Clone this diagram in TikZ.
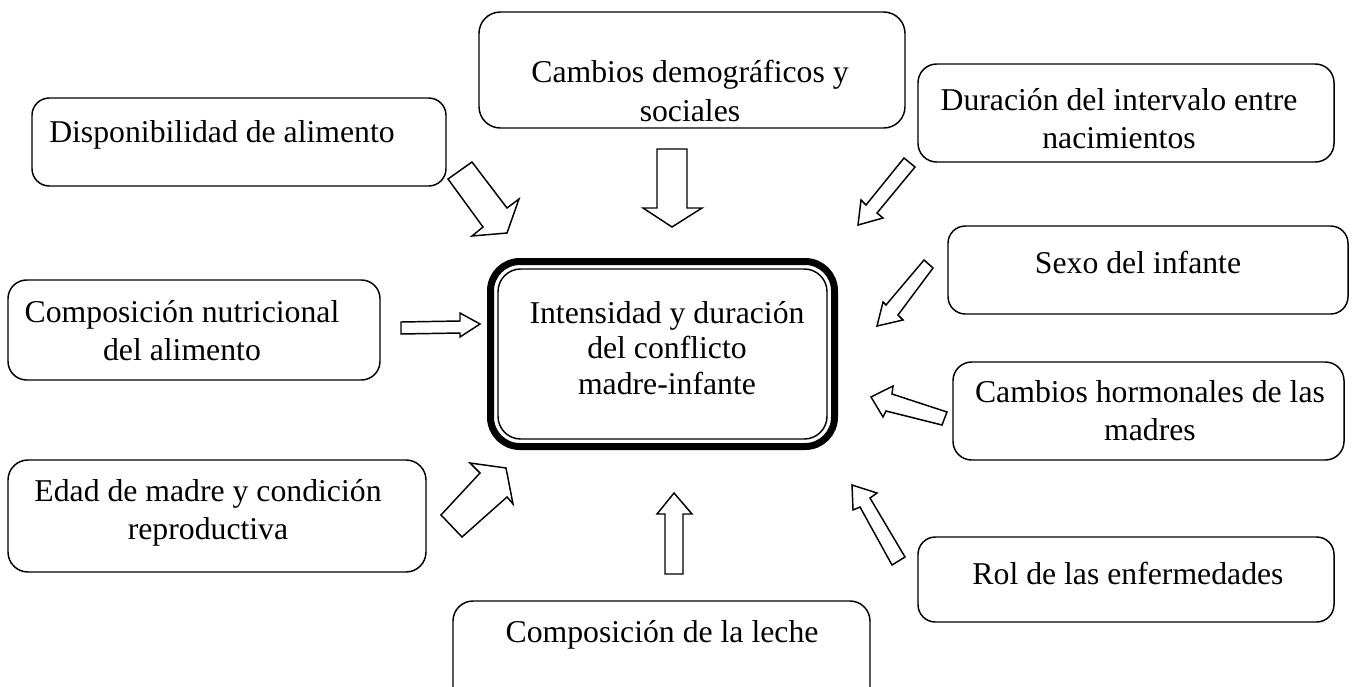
\documentclass[tikz,border=0pt]{standalone}
\usepackage{fontspec}
\setmainfont{Liberation Serif}
\usetikzlibrary{fit}
\begin{document}
\begin{tikzpicture}[x=0.75pt,y=-0.75pt,
  box/.style={draw, line width=1.1pt, rounded corners=#1, inner sep=0pt},
  box/.default=14pt,
  txt/.style={inner sep=0pt, align=center, font=\fontsize{23.8}{28.6}\selectfont},
  blockarrow/.style={draw, line width=1.1pt, fill=white, line join=miter}]
\useasboundingbox (0,0) rectangle (1356,686);
\clip (0,0) rectangle (1356,686);

% outer boxes
\node[box=13pt, fit={(32,98) (446,186)}] (b1) {};
\node[box=16pt, fit={(479,12) (905,128)}] (b2) {};
\node[box=14pt, fit={(918,64) (1334,162)}] (b3) {};
\node[box=13pt, fit={(948,226) (1348,314)}] (b4) {};
\node[box=14pt, fit={(8,280) (380,380)}] (b5) {};
\node[box=14pt, fit={(953,362) (1344,460)}] (b6) {};
\node[box=15pt, fit={(8,460) (426,572)}] (b7) {};
\node[box=13pt, fit={(918,537) (1334,622)}] (b8) {};
\node[box=15pt, fit={(453,601) (870,711)}] (b9) {};

% central box
\node[inner sep=0pt, fit={(487,258) (838,450)}] (c) {};
\draw[line width=5.25pt, rounded corners=22pt] (490.5,261.5) rectangle (834.5,446.5);
\draw[line width=1.1pt, rounded corners=17pt] (498,269) rectangle (827,439);

% texts
\node[txt] (t1) at (222,135) {Disponibilidad de alimento};
\node[txt] (t2) at (690,91) {Cambios demográficos y\\sociales};
\node[txt] (t3) at (1119,119) {Duración del intervalo entre\\nacimientos};
\node[txt] (t4) at (1138,262) {Sexo del infante};
\node[txt] (t5) at (182,331) {Composición nutricional\\del alimento};
\node[txt, font=\fontsize{23.8}{26.5}\selectfont] (tc) at (667,348) {Intensidad y duración\\del conflicto\\madre-infante};
\node[txt] (t6) at (1150,411) {Cambios hormonales de las\\madres};
\node[txt] (t7) at (208,513) {Edad de madre y condición\\reproductiva};
\node[txt] (t8) at (1128,573) {Rol de las enfermedades};
\node[txt] (t9) at (662,635) {Composición de la leche};

% block arrows
\draw[blockarrow] (448,179) -- (472,162) -- (507,208) -- (519,199) -- (507,233) -- (472,236) -- (483,227) -- cycle;
\draw[blockarrow] (657,149) -- (687,149) -- (687,208) -- (702,208) -- (672,227) -- (643,208) -- (657,208) -- cycle;
\draw[blockarrow] (904,158) -- (915,167) -- (877,213) -- (883,218) -- (858,225) -- (861,200) -- (866,205) -- cycle;
\draw[blockarrow] (924,260) -- (933,268) -- (898,315) -- (903,320) -- (877,326) -- (883,302) -- (886,305) -- cycle;
\draw[blockarrow] (401,322) -- (460,321) -- (460,313) -- (480,324) -- (460,337) -- (460,333) -- (401,334) -- cycle;
\draw[blockarrow] (871,397) -- (893,386) -- (892,394) -- (947,412) -- (942,425) -- (886,411) -- (883,417) -- cycle;
\draw[blockarrow] (441,515) -- (480,473) -- (470,463) -- (506,468) -- (513,504) -- (507,497) -- (462,537) -- cycle;
\draw[blockarrow] (665,574) -- (665,514) -- (657,514) -- (674,493) -- (692,514) -- (683,514) -- (683,574) -- cycle;
\draw[blockarrow] (852,485) -- (877,493) -- (870,498) -- (905,557) -- (892,565) -- (860,507) -- (853,510) -- cycle;
\end{tikzpicture}
\end{document}
